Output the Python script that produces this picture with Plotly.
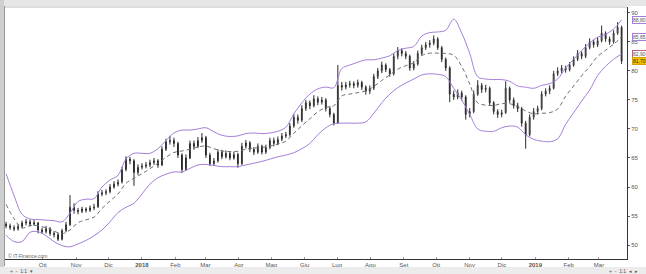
import pandas as pd
import plotly.graph_objects as go

# ---------------- data ----------------
start_date = "2017-08-28"
end_date = "2019-03-22"

opens = [53.6,53.3,53.0,52.8,53.2,53.8,54.0,53.6,53.8,52.6,52.3,52.8,52.0,51.8,51.0,52.5,53.5,56.5,56.0,55.8,
         56.2,56.0,56.4,56.6,58.8,59.0,59.2,60.0,60.5,60.9,63.0,64.8,64.5,62.5,63.4,63.6,63.8,64.2,64.5,63.8,
         66.5,67.8,68.0,67.5,65.5,63.0,65.0,67.5,67.0,68.0,68.5,65.5,64.0,64.5,66.0,65.2,65.8,65.0,65.6,64.0,
         67.0,67.6,66.5,66.0,67.0,66.0,66.8,68.0,67.5,68.2,68.8,69.0,70.5,72.0,71.5,73.5,74.5,74.0,75.2,74.6,
         75.0,73.5,72.5,71.0,77.5,77.2,77.6,77.8,77.5,78.0,77.2,76.5,77.0,79.0,80.0,81.0,80.2,79.5,82.5,83.5,
         83.0,82.5,80.5,81.2,83.0,84.0,84.5,84.8,85.5,84.0,82.0,80.5,76.0,75.5,76.2,75.5,72.5,73.0,76.0,77.5,
         76.8,77.0,74.5,73.0,72.5,72.8,77.0,75.0,74.0,73.5,71.0,69.0,72.0,73.0,73.5,76.0,76.5,77.0,79.5,80.0,
         80.5,80.2,81.0,82.0,83.0,82.5,84.0,85.0,84.5,85.2,86.5,85.5,85.0,86.5,87.5]
highs = [54.0,53.7,53.4,53.6,54.2,54.5,54.4,54.3,54.0,53.0,53.3,53.1,52.4,52.1,52.8,54.0,58.6,57.2,56.4,56.6,
         56.5,56.8,57.1,59.3,59.5,59.6,60.5,61.0,61.3,63.5,65.3,65.2,64.8,63.9,64.1,64.3,64.7,65.0,64.8,67.0,
         68.3,68.8,68.5,67.8,65.8,65.6,68.0,68.0,68.6,69.3,68.8,65.9,65.0,66.5,66.4,66.3,66.2,66.1,65.9,67.6,
         68.1,67.9,66.9,67.5,67.3,67.3,68.5,68.5,68.7,69.3,69.5,71.0,72.6,72.5,74.1,75.0,74.9,75.8,75.6,75.5,
         75.3,73.9,72.8,81.0,78.1,78.1,78.3,78.2,78.5,78.3,77.5,77.5,79.5,80.5,81.6,81.3,80.5,83.0,84.1,83.9,
         83.4,82.8,81.7,83.5,84.5,85.0,85.3,86.1,85.8,84.3,82.3,80.8,76.6,76.8,76.6,75.8,73.6,76.6,78.4,77.9,
         77.6,77.3,74.8,73.4,73.3,78.2,77.3,75.4,74.5,73.8,71.4,72.5,73.6,74.0,76.5,77.0,77.5,80.0,80.6,81.0,
         80.9,81.5,82.5,83.6,83.4,84.6,85.6,85.4,85.8,87.8,86.8,85.9,87.0,88.4,87.8]
lows = [52.9,52.6,52.4,52.5,52.9,53.4,53.2,53.3,52.0,51.9,52.0,51.6,51.3,50.7,50.8,52.2,53.3,55.4,55.3,55.5,
        55.6,55.7,56.0,56.4,58.4,58.6,58.9,59.7,60.1,60.6,62.7,63.9,60.2,62.1,63.0,63.2,63.4,63.8,63.3,63.6,
        66.2,67.3,66.9,65.0,62.4,62.8,64.8,66.4,66.7,67.6,65.0,63.6,63.6,64.2,64.8,64.9,64.6,64.7,63.3,63.8,
        66.6,66.0,65.5,65.7,65.6,65.7,66.5,67.0,67.2,67.9,68.4,68.7,70.2,70.9,71.2,73.1,73.4,73.7,74.1,74.2,
        73.0,72.0,70.6,70.9,76.6,76.8,77.1,77.0,77.1,76.7,75.9,76.0,76.7,78.6,79.6,79.8,79.0,79.2,82.0,82.5,
        82.0,80.0,80.1,80.9,82.6,83.6,84.0,84.4,83.6,81.5,80.0,74.6,75.0,75.1,74.9,71.6,72.0,72.7,75.7,76.2,
        76.3,74.0,72.5,71.9,72.0,72.6,74.5,73.5,72.9,70.4,66.6,68.7,71.6,72.5,73.2,75.6,76.0,76.8,79.1,79.6,
        79.7,79.9,80.7,81.7,82.0,82.2,83.7,84.0,84.1,84.9,85.0,84.5,84.7,86.2,81.2]
closes = [53.3,53.0,52.8,53.2,53.8,54.0,53.6,53.8,52.6,52.3,52.8,52.0,51.8,51.0,52.5,53.5,56.5,56.0,55.8,56.2,
          56.0,56.4,56.5,58.8,59.0,59.2,60.0,60.5,60.8,63.0,64.8,64.5,62.5,63.4,63.6,63.8,64.2,64.5,63.8,66.5,
          67.8,68.0,67.5,65.5,63.0,65.0,67.5,67.0,68.0,68.5,65.5,64.0,64.5,66.0,65.2,65.8,65.0,65.6,64.0,67.0,
          67.6,66.5,66.0,67.0,66.0,66.8,68.0,67.5,68.2,68.8,69.0,70.5,72.0,71.5,73.5,74.5,74.0,75.2,74.6,75.0,
          73.5,72.5,71.0,77.5,77.2,77.6,77.8,77.5,78.0,77.2,76.5,77.0,79.0,80.0,81.0,80.2,79.5,82.5,83.5,83.0,
          82.5,80.5,81.2,83.0,84.0,84.5,84.8,85.5,84.0,82.0,80.5,76.0,75.5,76.2,75.5,72.5,73.0,76.0,77.5,76.8,
          77.0,74.5,73.0,72.5,72.8,77.0,75.0,74.0,73.5,71.0,69.0,72.0,73.0,73.5,76.0,76.5,77.0,79.5,80.0,80.5,
          80.2,81.0,82.0,83.0,82.5,84.0,85.0,84.5,85.2,86.5,85.5,85.0,86.5,87.5,81.7]

# Bollinger bands read every second candle
band_upper = [62.3,58.5,55.3,54.5,54.4,54.3,54.2,54.0,55.5,57.5,57.9,58.0,60.0,61.2,62.0,64.8,65.8,65.8,65.8,66.6,
              68.0,69.3,69.8,69.8,70.0,70.2,69.5,68.9,68.7,68.8,69.2,69.3,69.2,69.3,69.6,70.3,72.6,74.5,76.0,76.9,
              77.2,77.1,80.4,81.0,81.5,81.9,81.9,82.2,82.6,83.5,83.9,84.2,86.0,86.6,86.7,87.0,88.9,86.5,83.0,79.0,
              78.6,78.5,78.5,78.2,77.4,77.2,77.0,77.5,77.8,78.6,80.5,82.0,83.5,84.8,85.8,86.3,87.2,88.8]
band_mid = [57.0,54.55,52.95,53.35,53.35,52.95,52.4,51.95,52.6,53.85,54.35,54.8,56.3,57.6,58.8,60.65,61.5,62.3,63.15,64.1,
            65.1,65.95,66.2,66.5,66.9,67.05,66.6,66.2,66.1,66.15,66.5,66.7,66.8,67.05,67.4,67.9,69.25,70.55,71.75,72.95,
            73.7,74.0,75.7,76.0,76.25,76.55,77.3,78.35,79.3,80.3,80.9,81.4,82.65,83.05,83.05,83.0,82.7,80.75,77.75,74.5,
            74.1,74.05,74.35,74.35,73.85,73.1,72.6,72.7,72.8,73.45,75.65,77.4,79.15,80.75,82.5,83.55,84.6,85.85]
band_lower = [51.7,50.6,50.6,52.2,52.3,51.6,50.6,49.9,49.7,50.2,50.8,51.6,52.6,54.0,55.6,56.5,57.2,58.8,60.5,61.6,
              62.2,62.6,62.6,63.2,63.8,63.9,63.7,63.5,63.5,63.5,63.8,64.1,64.4,64.8,65.2,65.5,65.9,66.6,67.5,69.0,
              70.2,70.9,71.0,71.0,71.0,71.2,72.7,74.5,76.0,77.1,77.9,78.6,79.3,79.5,79.4,79.0,77.0,75.0,72.5,70.0,
              69.6,69.6,70.2,70.5,70.3,69.0,68.2,67.9,67.8,68.3,70.8,72.8,74.8,76.7,79.2,80.8,82.0,82.9]

month_ticks = ["2017-10-01","2017-11-01","2017-12-01","2018-01-01","2018-02-01","2018-03-01","2018-04-01",
               "2018-05-01","2018-06-01","2018-07-01","2018-08-01","2018-09-01","2018-10-01","2018-11-01",
               "2018-12-01","2019-01-01","2019-02-01","2019-03-01"]
month_labels = ["Ott","Nov","Dic","<b>2018</b>","Feb","Mar","Apr","Mag","Giu","Lug","Ago","Set","Ott","Nov",
                "Dic","<b>2019</b>","Feb","Mar"]
y_ticks = [50, 55, 60, 65, 70, 75, 80, 85, 90]

# ---------------- figure ----------------
dates = pd.date_range(start_date, end_date, periods=len(closes))
band_dates = dates[::2]

W, H = 646, 274
L, R, T, B = 5, 19, 7, 15
PW, PH = W - L - R, H - T - B

def px(x):
    return (x - L) / PW

def py(y):
    return (H - B - y) / PH

BAND = "#a57fd8"
fig = go.Figure()
fig.add_trace(go.Scatter(x=band_dates, y=band_upper, mode="lines", line=dict(color=BAND, width=1, shape="spline"),
                         hoverinfo="skip"))
fig.add_trace(go.Scatter(x=band_dates, y=band_lower, mode="lines", line=dict(color=BAND, width=1, shape="spline"),
                         hoverinfo="skip"))
fig.add_trace(go.Scatter(x=band_dates, y=band_mid, mode="lines",
                         line=dict(color="#6f6f6f", width=1, dash="4px,3px", shape="spline"), hoverinfo="skip"))
fig.add_trace(go.Candlestick(x=dates, open=opens, high=highs, low=lows, close=closes,
                             increasing=dict(line=dict(color="#2a2a2a", width=1), fillcolor="#ffffff"),
                             decreasing=dict(line=dict(color="#2a2a2a", width=1), fillcolor="#2a2a2a"),
                             whiskerwidth=0))

fig.update_layout(
    width=W, height=H, margin=dict(l=L, r=R, t=T, b=B),
    paper_bgcolor="white", plot_bgcolor="white", showlegend=False,
    boxgap=0.7,
    font=dict(family="Liberation Sans, Arial, sans-serif", size=6, color="#555555"),
    xaxis=dict(type="date", range=["2017-08-27", "2019-03-27"], rangeslider=dict(visible=False),
               tickmode="array", tickvals=month_ticks, ticktext=month_labels,
               showgrid=False, zeroline=False, showline=True, linecolor="#333333", linewidth=1,
               ticks="inside", ticklen=2, tickcolor="#999999", tickfont=dict(size=6, color="#555555")),
    yaxis=dict(side="right", range=[47.6, 91.0], tickmode="array", tickvals=y_ticks,
               ticktext=[str(v) for v in y_ticks], showgrid=False, zeroline=False,
               showline=True, linecolor="#333333", linewidth=1, ticks="outside", ticklen=2,
               tickcolor="#555555", tickfont=dict(size=6, color="#555555")),
)

# window chrome
shapes = [
    dict(type="rect", xref="paper", yref="paper", x0=px(0), x1=px(W), y0=py(0), y1=py(6),
         fillcolor="#e6e6e6", line=dict(width=0), layer="above"),
    dict(type="line", xref="paper", yref="paper", x0=px(4), x1=px(627), y0=py(7), y1=py(7),
         line=dict(color="#bbbbbb", width=1)),
    dict(type="rect", xref="paper", yref="paper", x0=px(0), x1=px(4), y0=py(0), y1=py(H),
         fillcolor="#cfcfcf", line=dict(width=0)),
    dict(type="line", xref="paper", yref="paper", x0=px(4.5), x1=px(4.5), y0=py(6), y1=py(266),
         line=dict(color="#999999", width=1)),
    dict(type="rect", xref="paper", yref="paper", x0=px(0), x1=px(W), y0=py(267), y1=py(H),
         fillcolor="#ececec", line=dict(width=0)),
]
fig.update_layout(shapes=shapes)

# value boxes on the right
def fmt(v):
    return f"{v:.2f}".replace(".", ",")

boxes = [(band_upper[-1], BAND, "white", "#555555"),
         (band_mid[-1], BAND, "white", "#555555"),
         (band_lower[-1], "#c06080", "white", "#555555"),
         (closes[-1], "#d9a400", "#f2c200", "#222222")]
for val, bc, bg, fc in boxes:
    fig.add_annotation(x=1, xref="paper", y=val, yref="y", xanchor="left", xshift=5, text=fmt(val),
                       showarrow=False, bordercolor=bc, borderwidth=1, borderpad=0, bgcolor=bg,
                       font=dict(size=5, color=fc))

fig.add_annotation(x=px(6), xref="paper", y=py(256), yref="paper", xanchor="left", yanchor="middle",
                   text="© IT-Finance.com", showarrow=False, font=dict(size=5, color="#666666"))
fig.add_annotation(x=px(8), xref="paper", y=py(271), yref="paper", xanchor="left", yanchor="middle",
                   text="+  -  1:1  ▾", showarrow=False, font=dict(size=5, color="#555555"))
fig.add_annotation(x=px(640), xref="paper", y=py(271), yref="paper", xanchor="right", yanchor="middle",
                   text="+  -  1:1  ◂  ▸", showarrow=False, font=dict(size=5, color="#555555"))

fig.write_html("out.html")
